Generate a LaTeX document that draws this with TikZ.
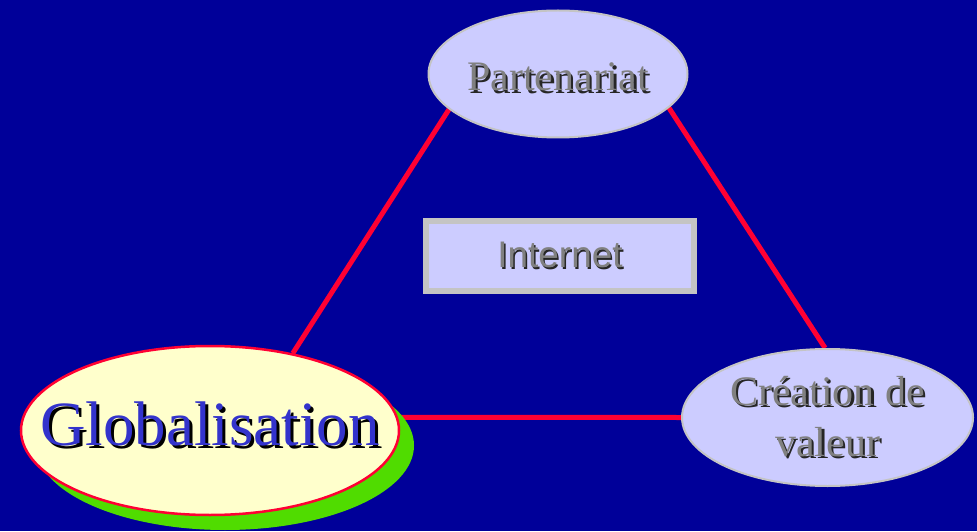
\documentclass[tikz,border=0pt]{standalone}
\usepackage{fontspec}
\setmainfont{Liberation Serif}
\newfontfamily\arialfont{Liberation Sans}
\usetikzlibrary{shapes.geometric,shadows}

\definecolor{bgblue}{HTML}{000099}
\definecolor{lilac}{HTML}{CCCCFF}
\definecolor{cream}{HTML}{FFFFCC}
\definecolor{linkred}{HTML}{FF0033}
\definecolor{shadegreen}{HTML}{50DC00}
\definecolor{rimgray}{HTML}{C4C4C4}
\definecolor{textgray}{HTML}{808080}
\definecolor{textblue}{HTML}{3333CC}

% 带阴影的文字: 颜色, 阴影颜色, 文字, 偏移
\newcommand{\shtext}[4]{\makebox[0pt]{\rlap{\kern#4\raisebox{-#4}{\color{#2}#3}}{\color{#1}#3}}}

\pgfdeclarelayer{backdrop}
\pgfdeclarelayer{wires}
\pgfsetlayers{backdrop,wires,main}

\begin{document}
\begin{tikzpicture}[x=1pt,y=1pt,
    bubble/.style={ellipse,fill=lilac,draw=rimgray,line width=2pt,inner sep=0pt},
    link/.style={linkred,line width=5pt}]
	% 背景
	\begin{pgfonlayer}{backdrop}
		\fill[bgblue] (0,0) rectangle (977,531);
	\end{pgfonlayer}
	\useasboundingbox (0,0) rectangle (977,531);

	% 三个椭圆
	\node[bubble,minimum width=259pt,minimum height=127pt,text height=34pt,text depth=0pt,
	      font=\fontsize{42}{50}\selectfont] (part) at (558,457)
	      {\shtext{textgray}{black!85}{Partenariat}{2.5pt}};
	\node[bubble,minimum width=291pt,minimum height=137pt,align=center,
	      font=\fontsize{42}{51}\selectfont] (crea) at (827.5,113.5)
	      {\shtext{textgray}{black!85}{Création de}{2.5pt}\\\shtext{textgray}{black!85}{valeur}{2.5pt}};
	\node[ellipse,fill=cream,draw=linkred,line width=2.5pt,inner sep=0pt,
	      minimum width=378pt,minimum height=169pt,text height=43pt,text depth=14pt,
	      drop shadow={shadow xshift=15pt,shadow yshift=-15pt,fill=shadegreen,opacity=1},
	      font=\fontsize{63}{70}\selectfont] (glob) at (210,100.5)
	      {\shtext{textblue}{black}{Globalisation}{3pt}};

	% 中间方框
	\node[rectangle,fill=lilac,draw=rimgray,line width=6pt,inner sep=0pt,
	      minimum width=267.4pt,minimum height=69.7pt,
	      font=\arialfont\fontsize{37}{44}\selectfont] (inet) at (560,274.8)
	      {\shtext{textgray}{black!85}{Internet}{1.5pt}};

	% 连线
	\begin{pgfonlayer}{wires}
		\draw[link] (part.198) -- (glob.43.6);
		\draw[link] (part.343.5) -- (crea.92);
		\draw[link] (glob.4) -- (crea.180);
	\end{pgfonlayer}
\end{tikzpicture}
\end{document}
